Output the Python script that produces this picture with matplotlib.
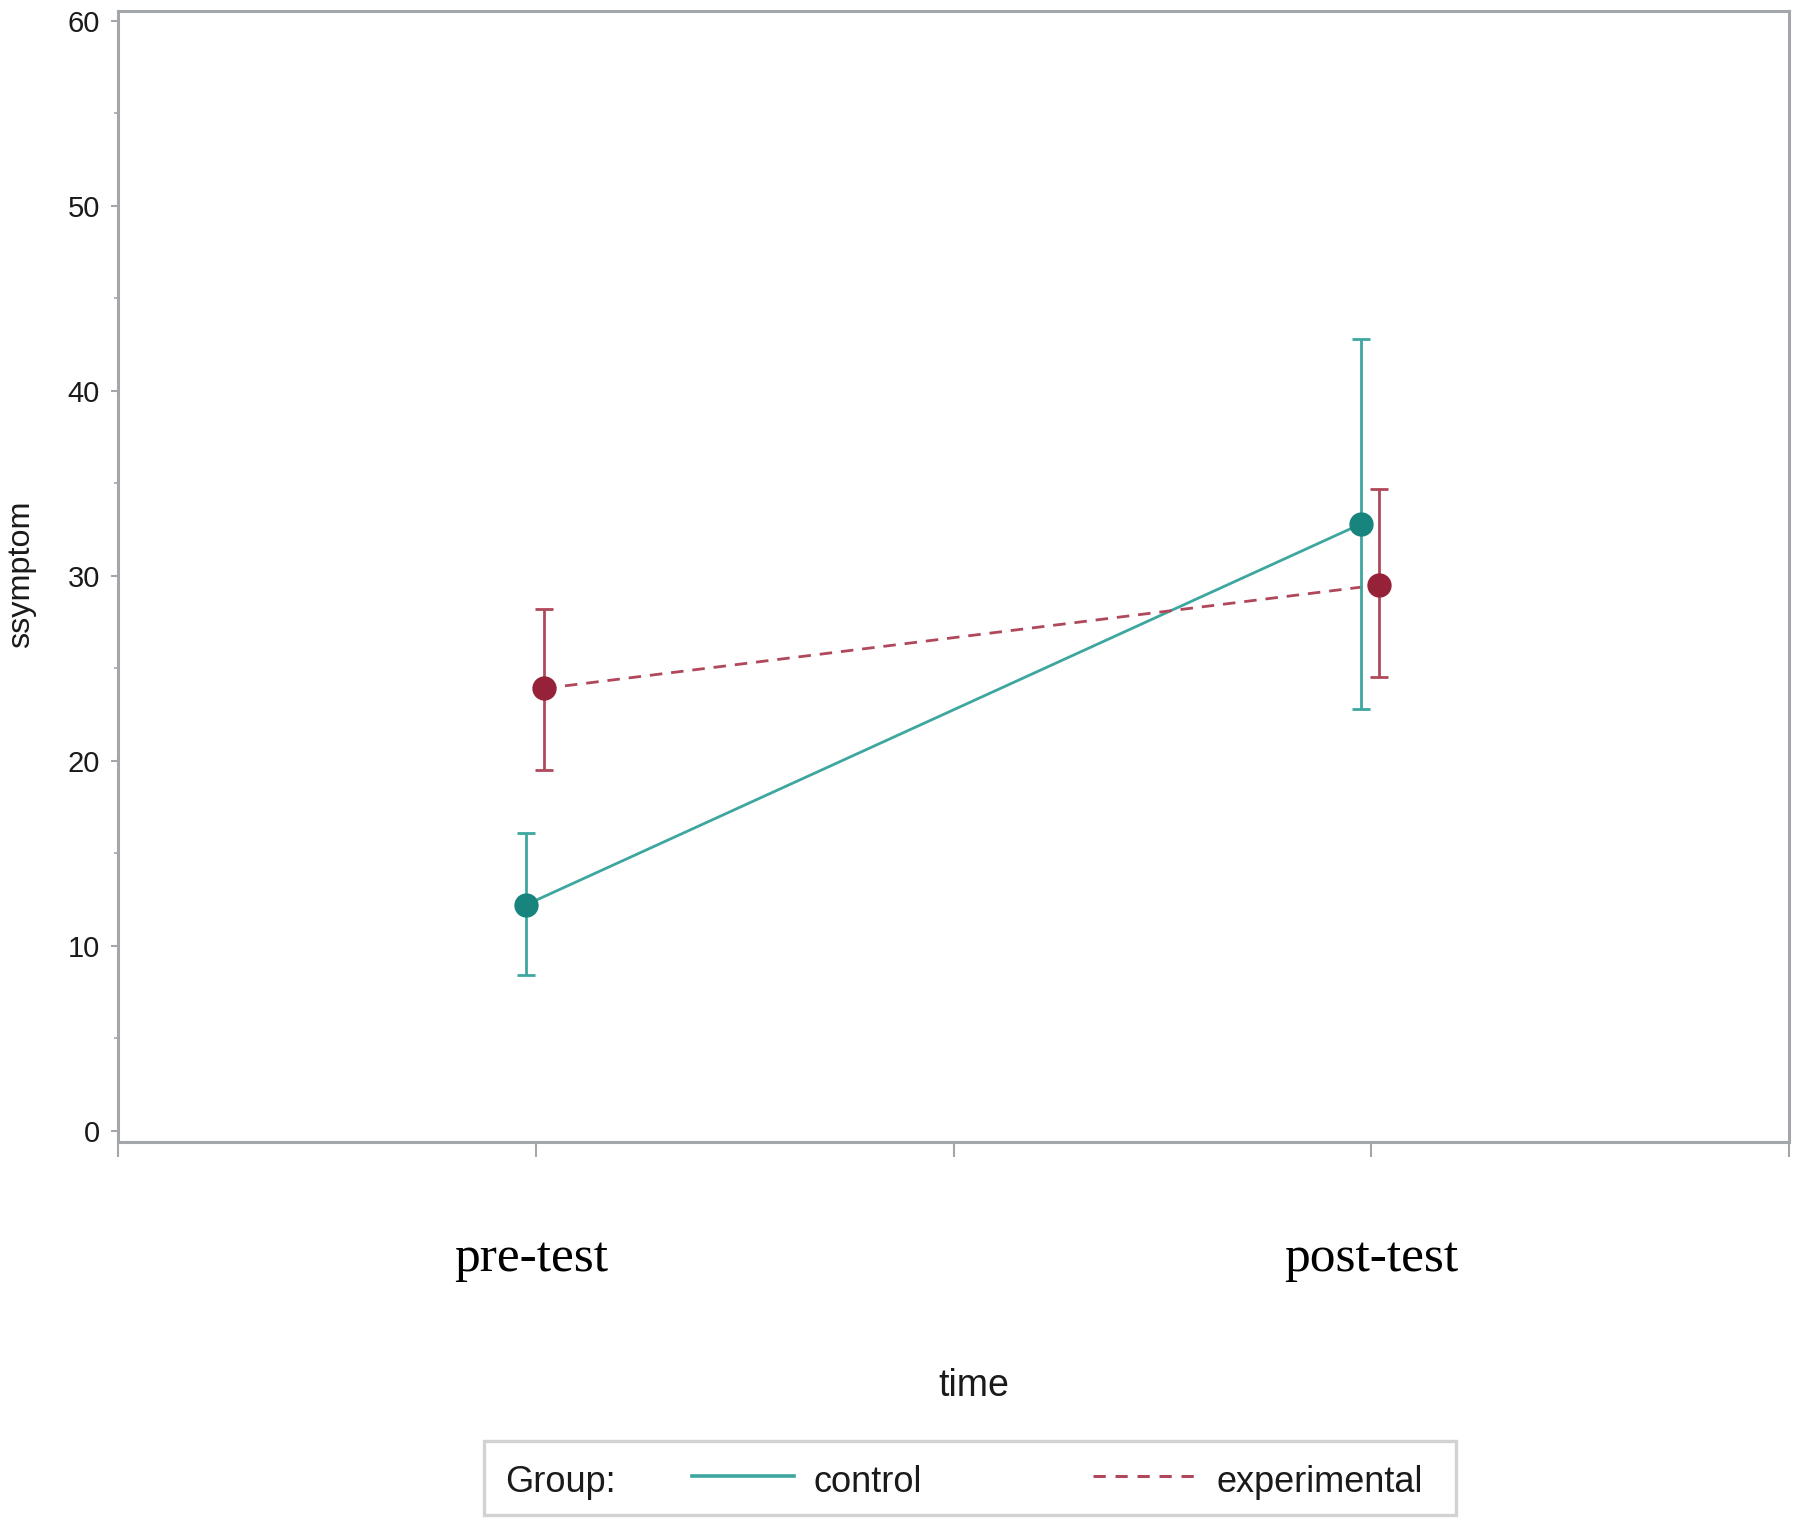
import matplotlib
matplotlib.use("Agg")
import matplotlib.pyplot as plt
from matplotlib.lines import Line2D
from matplotlib.patches import Rectangle
import matplotlib.transforms as mtransforms

# ---- data ----
time_labels = ["pre-test", "post-test"]
time_pos = [1, 3]
control_mean = [12.2, 32.8]
control_low = [8.4, 22.8]
control_high = [16.1, 42.8]
exp_mean = [23.9, 29.5]
exp_low = [19.5, 24.5]
exp_high = [28.2, 34.7]
group_names = ["control", "experimental"]
offsets = [-0.024, 0.019]

ctrl_marker = "#17857d"
ctrl_line = "#3da79f"
exp_marker = "#952238"
exp_line = "#b0475a"
spine_col = "#a3a7ab"
text_col = "#1a1a1a"
sans = ["Liberation Sans", "DejaVu Sans"]

fig = plt.figure(figsize=(18, 15.27), dpi=100)
ax = fig.add_axes([0.0656, 0.2521, 0.9283, 0.7404])

def draw(mean, low, high, off, mcol, lcol, ls):
    xs = [p + off for p in time_pos]
    yerr = [[m - l for m, l in zip(mean, low)], [h - m for m, h in zip(mean, high)]]
    if ls == "dashed":
        ax.plot(xs, mean, color=lcol, lw=2.0, dashes=(4.5, 3.2), zorder=2)
    else:
        ax.plot(xs, mean, color=lcol, lw=2.0, zorder=2)
    ax.errorbar(xs, mean, yerr=yerr, fmt="none", ecolor=lcol, elinewidth=2.0,
                capsize=6.5, capthick=2.0, zorder=3)
    ax.plot(xs, mean, "o", color=mcol, ms=16.5, mec=mcol, zorder=4)

draw(control_mean, control_low, control_high, offsets[0], ctrl_marker, ctrl_line, "solid")
draw(exp_mean, exp_low, exp_high, offsets[1], exp_marker, exp_line, "dashed")

ax.set_xlim(0, 4)
ax.set_ylim(-0.62, 60.5)
ax.set_xticks([0, 1, 2, 3, 4])
ax.set_xticklabels([])
ax.set_yticks([0, 10, 20, 30, 40, 50, 60])
ax.set_yticks([5, 15, 25, 35, 45, 55], minor=True)
ax.tick_params(axis="x", length=11, width=1.5, color=spine_col, direction="out")
ax.tick_params(axis="y", which="major", length=5, width=1.5, color=spine_col,
               labelsize=21, labelcolor=text_col, pad=8)
ax.tick_params(axis="y", which="minor", length=3, width=1.2, color=spine_col)
for lab in ax.get_yticklabels():
    lab.set_family(sans)
for s in ax.spines.values():
    s.set_color(spine_col)
    s.set_linewidth(2.2)

# category labels (serif) below axis
trans = mtransforms.blended_transform_factory(ax.transData, fig.transFigure)
label_shift = [-0.012, 0.0]
for p, lab, sh in zip(time_pos, time_labels, label_shift):
    ax.text(p + sh, 0.1677, lab, transform=trans, ha="center", va="baseline",
            fontsize=37, family=["Liberation Serif", "DejaVu Serif"], color="black")

fig.text(0.5411, 0.0923, "time", ha="center", va="center", fontsize=27,
         family=sans, color=text_col)
fig.text(0.0117, 0.624, "ssymptom", ha="center", va="center", rotation=90,
         fontsize=23.3, family=sans, color=text_col)

# legend box
fig.patches.append(Rectangle((0.269, 0.0079), 0.54, 0.0485, transform=fig.transFigure,
                             facecolor="white", edgecolor="#d0d2d4", lw=2.4))
ty = 0.0232
fig.text(0.2806, ty, "Group:", ha="left", va="baseline", fontsize=26,
         family=sans, color=text_col)
fig.lines.append(Line2D([0.3846, 0.4413], [0.0336, 0.0336], transform=fig.transFigure,
                        color=ctrl_line, lw=2.6))
fig.text(0.4522, ty, group_names[0], ha="left", va="baseline", fontsize=26,
         family=sans, color=text_col)
fig.lines.append(Line2D([0.607, 0.665], [0.0336, 0.0336], transform=fig.transFigure,
                        color=exp_line, lw=2.2, dashes=(4, 3.2)))
fig.text(0.676, ty, group_names[1], ha="left", va="baseline", fontsize=26,
         family=sans, color=text_col)

fig.savefig("out.png", dpi=100, facecolor="white")
